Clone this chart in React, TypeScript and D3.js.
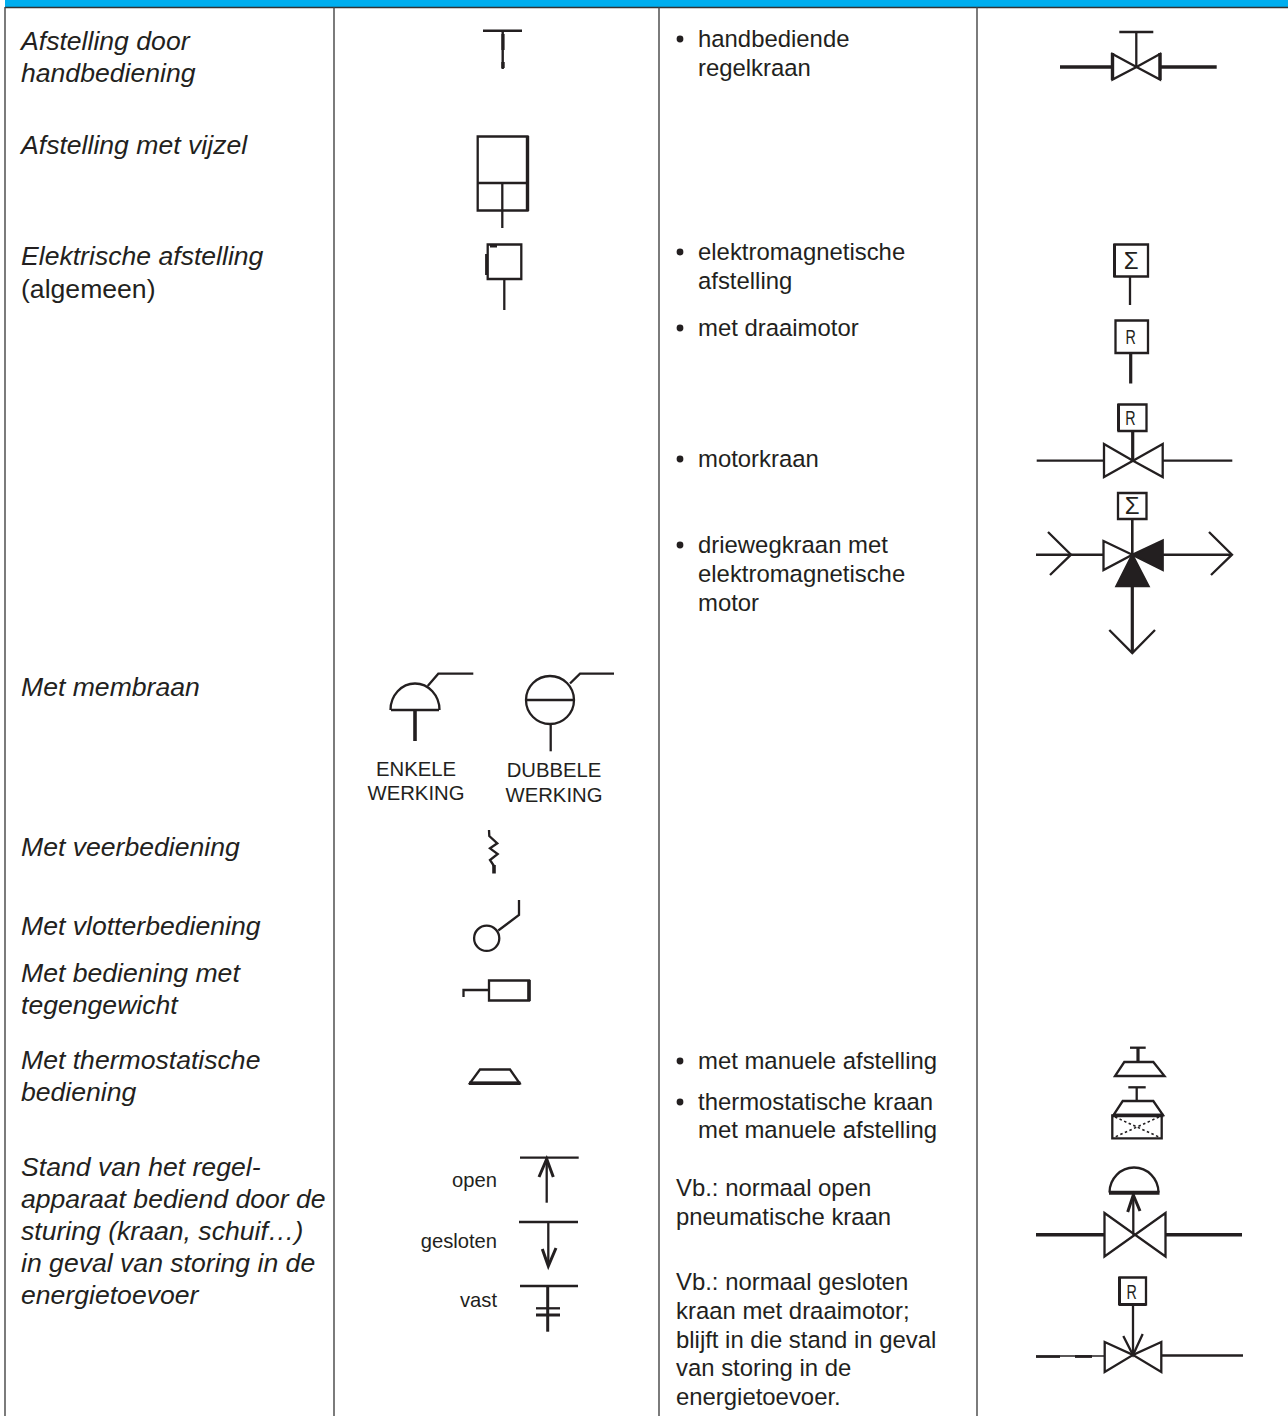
import React from "react";
import * as d3 from "d3";

// ---- Content of the table ----
const conceptLines = [
  "Afstelling door", "handbediening", "Afstelling met vijzel", "Elektrische afstelling", "(algemeen)",
  "Met membraan", "Met veerbediening", "Met vlotterbediening", "Met bediening met", "tegengewicht",
  "Met thermostatische", "bediening", "Stand van het regel-", "apparaat bediend door de",
  "sturing (kraan, schuif…)", "in geval van storing in de", "energietoevoer",
];
const exampleLines = [
  "handbediende", "regelkraan", "elektromagnetische", "afstelling", "met draaimotor", "motorkraan",
  "driewegkraan met", "elektromagnetische", "motor", "met manuele afstelling", "thermostatische kraan",
  "met manuele afstelling",
];
const noteLines = [
  "Vb.: normaal open", "pneumatische kraan", "Vb.: normaal gesloten", "kraan met draaimotor;",
  "blijft in die stand in geval", "van storing in de", "energietoevoer.",
];
const actionLabels = ["ENKELE", "WERKING", "DUBBELE", "WERKING"];
const stateLabels = ["open", "gesloten", "vast"];
const boxLetters = ["Σ", "R", "R", "Σ", "R"];

// ---- Layout ----
const INK = "#231f20";
const BLUE = "#00aeef";
const FONT = "'Liberation Sans', Arial, sans-serif";
const conceptY = [50, 82, 154, 265, 298, 696, 856, 935, 982, 1014, 1069, 1101, 1176, 1208, 1240, 1272, 1304];
const exampleY = [47, 76, 260, 289, 336, 467, 553, 582, 611, 1069, 1110, 1138];
const bulletOn = [true, false, true, false, true, true, true, false, false, true, true, false];
const noteY = [1196, 1225, 1290, 1319, 1348, 1376, 1405];
const stateY = [1187, 1248, 1307];
const columnX = [5, 334, 659, 977];

type P = [number, number];
const lineGen = d3.line<P>();
const closedGen = d3.line<P>().curve(d3.curveLinearClosed);

const L = ({ p, w = 2.3 }: { p: P[]; w?: number }) => (
  <path d={lineGen(p)!} fill="none" stroke={INK} strokeWidth={w} strokeLinejoin="miter" />
);
const Poly = ({ p, w = 2.3, fill = "none" }: { p: P[]; w?: number; fill?: string }) => (
  <path d={closedGen(p)!} fill={fill} stroke={INK} strokeWidth={w} strokeLinejoin="miter" />
);

function Box({ x0, x1, y0, y1, letter, dx = 0 }: { x0: number; x1: number; y0: number; y1: number; letter?: string; dx?: number }) {
  const cx = (x0 + x1) / 2 + dx;
  const isR = letter === "R";
  return (
    <g>
      <Poly p={[[x0, y0], [x1, y0], [x1, y1], [x0, y1]]} />
      {letter && (
        <text
          transform={`translate(${cx},${(y0 + y1) / 2 + (isR ? 7.5 : 8)}) scale(${isR ? 0.68 : 1},1)`}
          textAnchor="middle"
          fontSize={isR ? 21 : 24}
          fontFamily={FONT}
          fill={INK}
        >
          {letter}
        </text>
      )}
    </g>
  );
}

function Valve({ cx, cy, xl, xr, yt, yb, w = 2.3 }: { cx: number; cy: number; xl: number; xr: number; yt: number; yb: number; w?: number }) {
  return (
    <g>
      <Poly p={[[xl, yt], [cx, cy], [xl, yb]]} w={w} />
      <Poly p={[[xr, yt], [cx, cy], [xr, yb]]} w={w} />
    </g>
  );
}

function Dome({ cx, cy, rx, ry, w = 2.3 }: { cx: number; cy: number; rx: number; ry: number; w?: number }) {
  const a = d3.arc()({ innerRadius: 1, outerRadius: 1, startAngle: -Math.PI / 2, endAngle: Math.PI / 2 })!;
  return (
    <g transform={`translate(${cx},${cy})`}>
      <path d={a} transform={`scale(${rx},${ry})`} fill="none" stroke={INK} strokeWidth={w} vectorEffect="non-scaling-stroke" />
    </g>
  );
}

function Symbols() {
  return (
    <g>
      {/* column 2: generic actuators */}
      <L p={[[483, 30.7], [522, 30.7]]} w={2.4} />
      <L p={[[502.7, 31], [502.7, 69]]} w={2.4} />
      <L p={[[503, 34], [503, 50]]} w={3.2} />
      <L p={[[503, 62], [503, 68]]} w={3.4} />

      <Poly p={[[477.7, 136.5], [527.5, 136.5], [527.5, 210.5], [477.7, 210.5]]} />
      <L p={[[527.5, 136], [527.5, 211]]} w={3.4} />
      <L p={[[477.7, 183], [527.5, 183]]} />
      <L p={[[502.3, 183], [502.3, 228]]} />

      <Box x0={487.7} x1={521.3} y0={244.5} y1={279} />
      <L p={[[486.5, 254], [486.5, 275]]} w={2.8} />
      <L p={[[490, 246], [497, 246]]} w={3} />
      <L p={[[504.3, 279], [504.3, 310]]} />

      {/* membranes */}
      <L p={[[391, 710], [439, 710]]} />
      <Dome cx={415} cy={710} rx={24.5} ry={26.5} />
      <L p={[[415, 710], [415, 741]]} w={3.6} />
      <L p={[[427.7, 686], [438.3, 673.7], [473.3, 673.7]]} />
      <circle cx={550} cy={700} r={24} fill="none" stroke={INK} strokeWidth={2.3} />
      <L p={[[526, 700], [574, 700]]} />
      <L p={[[550.7, 724], [550.7, 751.3]]} />
      <L p={[[570, 683.5], [580, 673.7], [614, 673.7]]} />

      {/* spring */}
      <L p={[[489, 830], [489.3, 836], [497.3, 843.3], [490, 848.3], [497.7, 854], [490, 860], [494, 866]]} />
      <L p={[[494, 865], [494, 873.5]]} w={3.6} />

      {/* float */}
      <circle cx={486.7} cy={938.3} r={12.6} fill="none" stroke={INK} strokeWidth={2.3} />
      <L p={[[498.3, 930.5], [519, 915], [519, 900]]} />

      {/* counterweight */}
      <Poly p={[[489, 980.5], [529, 980.5], [529, 1000.5], [489, 1000.5]]} />
      <L p={[[529, 980], [529, 1001]]} w={3.6} />
      <L p={[[489, 990], [463.5, 990], [463.5, 997]]} />

      {/* thermostatic */}
      <Poly p={[[480, 1069.5], [510, 1069.5], [519.5, 1083], [470, 1083]]} />
      <L p={[[469, 1083.2], [520.5, 1083.2]]} w={3.4} />

      {/* fail position */}
      <L p={[[520, 1157.7], [578.7, 1157.7]]} />
      <L p={[[546.7, 1158], [546.7, 1202.7]]} />
      <L p={[[539, 1177], [546.7, 1159], [553.3, 1177]]} w={3} />
      <L p={[[519, 1222], [578, 1222]]} />
      <L p={[[548.3, 1222], [548.3, 1266]]} />
      <L p={[[542.3, 1249], [548.3, 1266], [556, 1248]]} w={3} />
      <L p={[[520, 1286], [578, 1286]]} />
      <L p={[[547.7, 1286], [547.7, 1331.7]]} w={3} />
      <L p={[[536, 1308.3], [560, 1308.3]]} />
      <L p={[[536, 1315], [560, 1315]]} w={3} />

      {/* column 4: hand regulated valve */}
      <L p={[[1119.3, 32], [1153.3, 32]]} />
      <L p={[[1136.3, 32], [1136.3, 67]]} />
      <L p={[[1060, 67], [1112, 67]]} w={3.6} />
      <L p={[[1160, 67], [1216.7, 67]]} w={3.6} />
      <Valve cx={1136.5} cy={67} xl={1112.5} xr={1160} yt={54} yb={79.5} />
      <L p={[[1112.5, 53], [1112.5, 80]]} w={3.4} />
      <L p={[[1160, 53], [1160, 80]]} w={3.4} />

      {/* electric */}
      <Box x0={1114.5} x1={1148} y0={244.5} y1={276.5} letter={boxLetters[0]} />
      <L p={[[1114.5, 244], [1114.5, 277]]} w={3} />
      <L p={[[1130, 277], [1130, 305]]} />
      <Box x0={1115.5} x1={1148} y0={320.5} y1={353} letter={boxLetters[1]} dx={-1} />
      <L p={[[1130.7, 353], [1130.7, 383.5]]} w={3.2} />

      {/* motor valve */}
      <Box x0={1118.5} x1={1146.5} y0={404.5} y1={431} letter={boxLetters[2]} dx={-2} />
      <L p={[[1118.5, 404], [1118.5, 431]]} w={3} />
      <L p={[[1132.7, 431], [1132.7, 461]]} w={3.2} />
      <L p={[[1036.7, 460.7], [1104, 460.7]]} />
      <L p={[[1162.7, 460.7], [1232.3, 460.7]]} />
      <Valve cx={1133} cy={460.7} xl={1104} xr={1162.7} yt={444} yb={477} />

      {/* three-way valve */}
      <Box x0={1118} x1={1146.5} y0={493} y1={519} letter={boxLetters[3]} />
      <L p={[[1132.3, 519], [1132.3, 555]]} w={2.6} />
      <L p={[[1036, 554.7], [1103, 554.7]]} w={2.6} />
      <L p={[[1162, 554.7], [1232, 554.7]]} w={2.6} />
      <L p={[[1048, 532], [1071, 554.7], [1050, 575]]} />
      <L p={[[1209, 532], [1232, 554.7], [1211, 575]]} />
      <Poly p={[[1103.5, 541], [1132.3, 554.7], [1103.5, 570]]} />
      <Poly p={[[1162.7, 540.5], [1132.3, 554.7], [1162.7, 570]]} fill={INK} />
      <Poly p={[[1116.5, 586], [1132.3, 554.7], [1148.5, 586]]} fill={INK} />
      <L p={[[1132.3, 586], [1132.3, 653]]} w={3.2} />
      <L p={[[1109.3, 630], [1132.3, 653], [1155, 630]]} />

      {/* thermostatic with manual */}
      <L p={[[1130, 1047.7], [1145.7, 1047.7]]} />
      <L p={[[1138, 1048], [1138, 1062]]} w={3.2} />
      <Poly p={[[1124.3, 1062], [1153.3, 1062], [1164.5, 1076], [1115, 1076]]} />
      <L p={[[1128.3, 1087.3], [1145.7, 1087.3]]} />
      <L p={[[1136.7, 1087.3], [1136.7, 1101]]} />
      <Poly p={[[1122.7, 1101], [1153.3, 1101], [1163, 1115], [1113.5, 1115]]} />
      <L p={[[1113, 1115.5], [1163.5, 1115.5]]} w={3.4} />
      <Poly p={[[1112.3, 1115.5], [1161.7, 1115.5], [1161.7, 1138.3], [1112.3, 1138.3]]} />
      <path d={lineGen([[1115, 1117], [1159, 1137]])!} stroke={INK} strokeWidth={1.6} strokeDasharray="2.5 2.5" fill="none" />
      <path d={lineGen([[1159, 1117], [1115, 1137]])!} stroke={INK} strokeWidth={1.6} strokeDasharray="2.5 2.5" fill="none" />

      {/* normally open pneumatic valve */}
      <Dome cx={1134} cy={1192.5} rx={24.5} ry={25} />
      <L p={[[1109, 1192.7], [1159.5, 1192.7]]} w={4} />
      <L p={[[1133.3, 1193], [1133.3, 1234.7]]} />
      <L p={[[1127.7, 1212], [1133.3, 1195], [1140, 1211]]} w={3} />
      <L p={[[1036, 1234.7], [1104, 1234.7]]} w={3.6} />
      <L p={[[1166, 1234.7], [1242, 1234.7]]} w={3.6} />
      <Valve cx={1135} cy={1234.7} xl={1104.5} xr={1165.5} yt={1213} yb={1256.5} />

      {/* normally closed motor valve */}
      <Box x0={1119.5} x1={1146} y0={1277.5} y1={1304.5} letter={boxLetters[4]} dx={-1} />
      <L p={[[1119.5, 1277], [1119.5, 1305]]} w={3} />
      <L p={[[1119, 1304.5], [1146, 1304.5]]} w={3} />
      <L p={[[1133, 1305], [1133, 1355]]} />
      <L p={[[1123.3, 1336], [1133, 1355], [1142.7, 1334]]} />
      <Valve cx={1133} cy={1355} xl={1104.7} xr={1161.3} yt={1342} yb={1372} />
      <L p={[[1036, 1356.5], [1060, 1356.5]]} w={2.8} />
      <L p={[[1075, 1356.5], [1092, 1356.5]]} w={2.8} />
      <L p={[[1060, 1356], [1104, 1356]]} w={1.6} />
      <L p={[[1161, 1355.5], [1243, 1355.5]]} />
    </g>
  );
}

export default function App() {
  return (
    <svg width={1288} height={1416} viewBox="0 0 1288 1416" style={{ position: "absolute", left: 0, top: 0, background: "#fff" }} fontFamily={FONT}>
      <rect x={5} y={0} width={1283} height={7} fill={BLUE} />
      <path d={lineGen([[5, 7.5], [1288, 7.5]])!} stroke="#333" strokeWidth={1.6} fill="none" />
      {columnX.map((x) => (
        <path key={x} d={lineGen([[x, 7], [x, 1416]])!} stroke="#444" strokeWidth={1.4} fill="none" />
      ))}

      {conceptLines.map((t, i) => (
        <text key={i} x={21} y={conceptY[i]} fontSize={26.6} fill={INK} fontStyle={t === "(algemeen)" ? "normal" : "italic"}>{t}</text>
      ))}
      {exampleLines.map((t, i) => (
        <g key={i}>
          {bulletOn[i] && <circle cx={680} cy={exampleY[i] - 8} r={3.4} fill={INK} />}
          <text x={698} y={exampleY[i]} fontSize={23.9} fill={INK}>{t}</text>
        </g>
      ))}
      {noteLines.map((t, i) => (
        <text key={i} x={676} y={noteY[i]} fontSize={23.9} fill={INK}>{t}</text>
      ))}

      <text x={416} y={776} textAnchor="middle" fontSize={20.3} fill={INK}>{actionLabels[0]}</text>
      <text x={416} y={800} textAnchor="middle" fontSize={20.3} fill={INK}>{actionLabels[1]}</text>
      <text x={554} y={777} textAnchor="middle" fontSize={20.3} fill={INK}>{actionLabels[2]}</text>
      <text x={554} y={802} textAnchor="middle" fontSize={20.3} fill={INK}>{actionLabels[3]}</text>

      {stateLabels.map((t, i) => (
        <text key={t} x={497} y={stateY[i]} textAnchor="end" fontSize={20.2} fill={INK}>{t}</text>
      ))}

      <Symbols />
    </svg>
  );
}
